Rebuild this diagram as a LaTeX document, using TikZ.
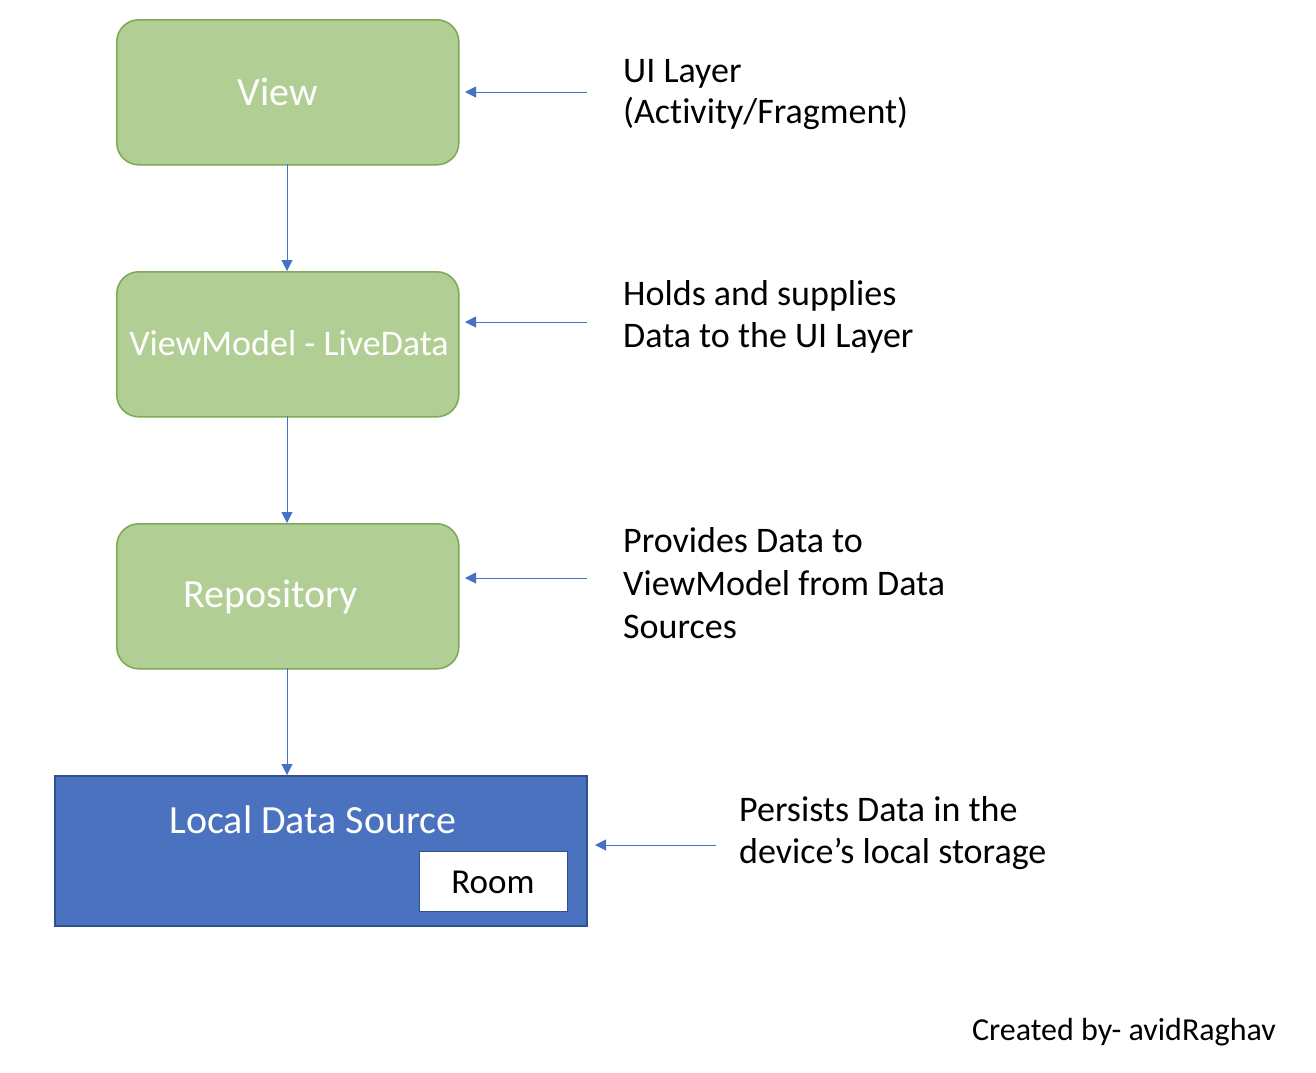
\documentclass[tikz,border=0pt]{standalone}
\usepackage{fontspec}
\setmainfont{Carlito}[RawFeature={-liga;-clig;-calt;-dlig}]
\usetikzlibrary{arrows.meta}
\definecolor{gfill}{HTML}{B1CF95}
\definecolor{gline}{HTML}{7EAB55}
\definecolor{bfill}{HTML}{4A72BE}
\definecolor{bline}{HTML}{2F528F}
\definecolor{arr}{HTML}{4472C4}
\begin{document}
\begin{tikzpicture}[x=1pt,y=-1pt,
  gbox/.style={draw=gline,fill=gfill,line width=1.6pt,rounded corners=22pt,minimum width=342pt,minimum height=145pt,anchor=north west,inner sep=0pt},
  lbl/.style={text=white,font=\fontsize{40}{44}\selectfont,anchor=base,inner sep=0pt},
  side/.style={anchor=base west,font=\fontsize{36}{42}\selectfont,inner sep=0pt},
  con/.style={draw=arr,line width=1pt,-{Triangle[length=11pt,width=11pt]}}]
\useasboundingbox (0,0) rectangle (1316,1072);
\node[gbox] (view) at (116,19) {};
\node[gbox] (vm) at (116,271) {};
\node[gbox] (repo) at (116,523) {};
\node[draw=bline,fill=bfill,line width=1.6pt,minimum width=532pt,minimum height=150pt,anchor=north west,inner sep=0pt] (local) at (54,775) {};
\node[draw=bline,fill=white,line width=1.4pt,minimum width=148pt,minimum height=60pt,anchor=north west,inner sep=0pt] (room) at (419,851) {};
\node[lbl] (tview) at (278,105) {View};
\node[lbl,font=\fontsize{36}{40}\selectfont] (tvm) at (289,355) {ViewModel - LiveData};
\node[lbl] (trepo) at (271,607) {Repository};
\node[lbl] (tlocal) at (313,833) {Local Data Source};
\node[font=\fontsize{35}{40}\selectfont,anchor=base,inner sep=0pt] (troom) at (493,893) {Room};
% vertical connectors
\coordinate (v1) at (287,164);
\coordinate (v2) at (287,271);
\coordinate (v3) at (287,416);
\coordinate (v4) at (287,523);
\coordinate (v5) at (287,668);
\coordinate (v6) at (287,775);
\draw[con] (v1) -- (v2);
\draw[con] (v3) -- (v4);
\draw[con] (v5) -- (v6);
% horizontal connectors
\coordinate (h1s) at (587,92);  \coordinate (h1e) at (465,92);
\coordinate (h2s) at (587,322); \coordinate (h2e) at (465,322);
\coordinate (h3s) at (587,578); \coordinate (h3e) at (465,578);
\coordinate (h4s) at (716,845); \coordinate (h4e) at (595,845);
\draw[con] (h1s) -- (h1e);
\draw[con] (h2s) -- (h2e);
\draw[con] (h3s) -- (h3e);
\draw[con] (h4s) -- (h4e);
\node[side] (d1a) at (623,82) {UI Layer};
\node[side] (d1b) at (623,123) {(Activity/Fragment)};
\node[side] (d2a) at (623,305) {Holds and supplies};
\node[side] (d2b) at (623,347) {Data to the UI Layer};
\node[side] (d3a) at (623,552) {Provides Data to};
\node[side] (d3b) at (623,595) {ViewModel from Data};
\node[side] (d3c) at (623,638) {Sources};
\node[side] (d4a) at (739,821) {Persists Data in the};
\node[side] (d4b) at (739,863) {device’s local storage};
\node[anchor=base east,font=\fontsize{32}{36}\selectfont,inner sep=0pt] (credit) at (1276,1040) {Created by- avidRaghav};
\end{tikzpicture}
\end{document}
